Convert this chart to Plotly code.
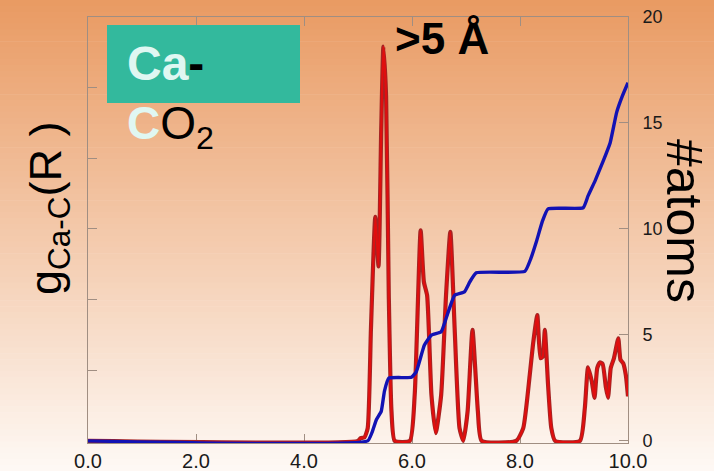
import plotly.graph_objects as go

# ---- data ----
r_red = [0.0, 5.0, 5.05, 5.12, 5.18, 5.24, 5.32, 5.38, 5.43, 5.47, 5.52, 5.57, 5.62, 5.68,
         5.96, 6.05, 6.16, 6.22, 6.28, 6.36, 6.44, 6.54, 6.63, 6.71, 6.79, 6.88, 6.95,
         7.03, 7.12, 7.22, 7.29, 7.93, 8.06, 8.18, 8.24, 8.32, 8.38, 8.42, 8.46, 8.52,
         8.58, 8.65, 9.11, 9.2, 9.26, 9.33, 9.38, 9.43, 9.48, 9.53, 9.59, 9.63, 9.68,
         9.74, 9.82, 9.86, 9.91, 9.96, 10.0]
g_red = [0.0, 0.0, 0.04, 0.05, 0.18, 1.59, 3.17, 2.47, 4.41, 5.58, 4.88, 2.06, 0.42, 0.0,
         0.0, 0.65, 2.98, 2.25, 2.06, 0.65, 0.11, 0.65, 2.06, 2.96, 1.59, 0.18, 0.0,
         0.42, 1.57, 0.42, 0.0, 0.0, 0.18, 0.93, 1.36, 1.78, 1.17, 1.19, 1.57, 0.79,
         0.18, 0.0, 0.0, 0.46, 1.04, 0.84, 0.61, 1.03, 1.11, 1.09, 0.76, 0.61, 1.03,
         1.17, 1.45, 1.15, 1.10, 0.93, 0.63]

r_blue = [0.0, 5.18, 5.26, 5.34, 5.43, 5.49, 5.57, 5.99, 6.08, 6.23, 6.36, 6.54, 6.63,
          6.79, 6.97, 7.07, 7.19, 8.09, 8.2, 8.3, 8.42, 8.52, 9.17, 9.26, 9.39, 9.54,
          9.67, 9.79, 9.9, 10.0]
n_blue = [0.0, 0.0, 0.4, 1.0, 1.39, 2.35, 2.96, 3.0, 3.27, 4.52, 4.99, 5.15, 5.77,
          6.87, 7.03, 7.5, 7.93, 8.0, 8.6, 9.37, 10.4, 10.95, 11.0, 11.56, 12.27, 13.2,
          14.07, 15.5, 16.3, 16.9]

x_tickvals = [0, 2, 4, 6, 8, 10]
x_ticktext = ["0.0", "2.0", "4.0", "6.0", "8.0", "10.0"]
y_tickvals = [0, 1, 2, 3, 4, 5, 6]
y2_tickvals = [0, 5, 10, 15, 20]

# ---- figure ----
W, H = 714, 471
ml, mr, mt, mb = 88, 86, 17, 28
plot_w = W - ml - mr
plot_h = H - mt - mb

fig = go.Figure()
fig.add_trace(go.Scatter(x=r_red, y=g_red, mode="lines", yaxis="y",
                         line=dict(color="#A52424", width=4.2, shape="spline", smoothing=0.5),
                         hoverinfo="skip", showlegend=False))
fig.add_trace(go.Scatter(x=r_red, y=g_red, mode="lines", yaxis="y",
                         line=dict(color="#E00E0E", width=2.2, shape="spline", smoothing=0.5),
                         showlegend=False))
fig.add_trace(go.Scatter(x=r_blue, y=n_blue, mode="lines", yaxis="y2",
                         line=dict(color="#1212B4", width=3.4, shape="spline", smoothing=0.4),
                         showlegend=False))

# gradient background
top = (233, 154, 98)
bot = (254, 249, 245)
shapes = []
N = 80
for i in range(N):
    p0 = H * i / N
    p1 = H * (i + 1) / N + 0.6
    t = (i + 0.5) / N
    c = tuple(round(top[k] + (bot[k] - top[k]) * t) for k in range(3))
    shapes.append(dict(type="rect", xref="paper", yref="paper",
                       x0=-ml / plot_w - 0.01, x1=1 + mr / plot_w + 0.01,
                       y0=(H - mb - p1) / plot_h, y1=(H - mb - p0) / plot_h,
                       fillcolor="rgb(%d,%d,%d)" % c, line=dict(width=0), layer="below"))


def px_x(p):
    return (p - ml) / plot_w


def px_y(p):
    return (H - mb - p) / plot_h


# teal box
shapes.append(dict(type="rect", xref="paper", yref="paper",
                   x0=px_x(107), x1=px_x(300), y0=px_y(103), y1=px_y(25),
                   fillcolor="#33B99D", line=dict(width=0), layer="above"))

font_main = "Liberation Sans, Arial, sans-serif"
annotations = [
    dict(text="<b><span style='color:#E0F7F2'>Ca</span>-</b>", x=px_x(125), y=px_y(63),
         xref="paper", yref="paper", xanchor="left", yanchor="middle", showarrow=False,
         font=dict(size=48, color="black", family=font_main)),
    dict(text="<b><span style='color:#E0F7F2'>C</span></b>O<sub>2</sub>", x=px_x(125), y=px_y(127),
         xref="paper", yref="paper", xanchor="left", yanchor="middle", showarrow=False,
         font=dict(size=46, color="black", family=font_main)),
    dict(text="<b>&gt;5 Å</b>", x=px_x(442), y=px_y(38),
         xref="paper", yref="paper", xanchor="center", yanchor="middle", showarrow=False,
         font=dict(size=44, color="black", family=font_main)),
    dict(text="g<sub>Ca-C</sub>(R )", x=px_x(48), y=px_y(208), textangle=-90,
         xref="paper", yref="paper", xanchor="center", yanchor="middle", showarrow=False,
         font=dict(size=45, color="black", family=font_main)),
    dict(text="#atoms", x=px_x(684), y=px_y(221), textangle=90,
         xref="paper", yref="paper", xanchor="center", yanchor="middle", showarrow=False,
         font=dict(size=50, color="black", family=font_main)),
]

axcol = "#A08E82"
fig.update_layout(
    width=W, height=H, autosize=False,
    margin=dict(l=ml, r=mr, t=mt, b=mb, pad=0, autoexpand=False),
    paper_bgcolor="rgb(254,249,245)", plot_bgcolor="rgba(0,0,0,0)",
    shapes=shapes, annotations=annotations,
    xaxis=dict(range=[0, 10], tickvals=x_tickvals, ticktext=x_ticktext, automargin=False,
               ticks="inside", ticklen=9, tickcolor=axcol, showline=True, layer="below traces",
               linecolor=axcol, linewidth=1, mirror="ticks", showgrid=False,
               zeroline=False, tickfont=dict(size=20, color="#1a1a1a", family=font_main)),
    yaxis=dict(range=[-0.03, 6], tickvals=y_tickvals, showticklabels=False, automargin=False,
               ticks="inside", ticklen=9, tickcolor=axcol, showline=True, layer="below traces",
               linecolor=axcol, linewidth=1, showgrid=False, zeroline=False),
    yaxis2=dict(range=[-0.1, 20], tickvals=y2_tickvals, overlaying="y", side="right",
                automargin=False, layer="below traces",
                ticks="inside", ticklen=9, tickcolor=axcol, showline=True,
                linecolor=axcol, linewidth=1, showgrid=False, zeroline=False,
                ticklabelstandoff=10,
                tickfont=dict(size=18, color="#1a1a1a", family=font_main)),
)

fig.write_html("out.html")
